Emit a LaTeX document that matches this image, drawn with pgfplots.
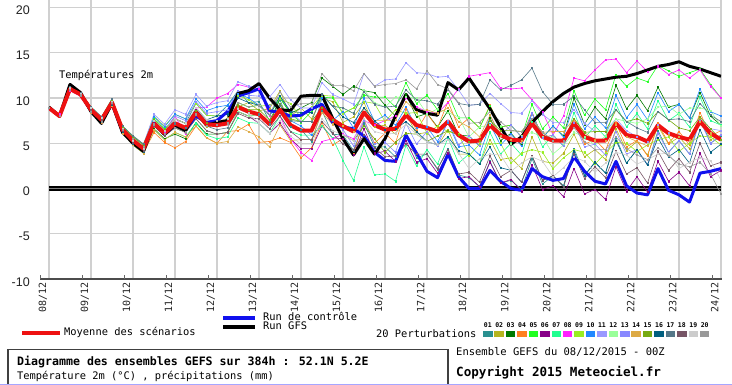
\documentclass[border=0pt]{standalone}
\usepackage{pgfplots}
\usepackage{pgfplotstable}
\pgfplotsset{compat=1.18}
\usepackage{fontspec}
\setmainfont{DejaVu Sans Mono}
\newfontfamily\mono{DejaVu Sans Mono}
\newfontfamily\ysans{Liberation Sans}
\definecolor{c01}{HTML}{2A9090}
\definecolor{c02}{HTML}{B5B520}
\definecolor{c03}{HTML}{007A00}
\definecolor{c04}{HTML}{FF8020}
\definecolor{c05}{HTML}{20FF20}
\definecolor{c06}{HTML}{880088}
\definecolor{c07}{HTML}{20FF90}
\definecolor{c08}{HTML}{FF20FF}
\definecolor{c09}{HTML}{99EE22}
\definecolor{c10}{HTML}{2288FF}
\definecolor{c11}{HTML}{9999FF}
\definecolor{c12}{HTML}{99FF99}
\definecolor{c13}{HTML}{8888FF}
\definecolor{c14}{HTML}{DDAA44}
\definecolor{c15}{HTML}{77AA11}
\definecolor{c16}{HTML}{005F7F}
\definecolor{c17}{HTML}{557788}
\definecolor{c18}{HTML}{775566}
\definecolor{c19}{HTML}{CCCCCC}
\definecolor{c20}{HTML}{999999}
\definecolor{gridc}{HTML}{D0D0D0}
\definecolor{meanc}{HTML}{EE1111}
\definecolor{ctrlc}{HTML}{1010EE}
\definecolor{txtc}{HTML}{222222}

\pgfplotstableread{
h 0 6 12 18 24 30 36 42 48 54 60 66 72 78 84 90 96 102 108 114 120 126 132 138 144 150 156 162 168 174 180 186 192 198 204 210 216 222 228 234 240 246 252 258 264 270 276 282 288 294 300 306 312 318 324 330 336 342 348 354 360 366 372 378 384
M 8.9 8.0 11.0 10.4 8.7 7.6 9.5 6.5 5.3 4.4 7.2 6.1 7.2 6.7 8.4 7.1 7.0 7.2 9.0 8.5 8.2 7.1 8.7 7.0 6.4 6.4 8.9 7.6 6.9 6.3 8.4 7.0 6.5 6.6 8.1 7.0 6.7 6.3 7.4 5.9 5.2 5.3 7.0 5.9 5.4 5.3 7.2 5.7 5.3 5.3 7.2 5.7 5.3 5.3 7.2 5.9 5.7 5.2 7.0 6.1 5.7 5.4 7.4 6.1 5.4
C 8.9 8.0 11.0 10.4 8.6 7.4 9.4 6.3 5.2 4.3 7.2 6.0 7.0 6.5 8.0 7.3 7.5 8.5 10.2 10.6 11.0 8.6 8.4 8.0 8.1 8.8 9.3 7.3 6.8 6.6 5.8 4.0 3.1 3.0 5.9 3.9 1.9 1.2 3.8 1.3 0.0 0.0 2.0 0.8 0.0 -0.2 2.2 1.3 0.9 1.1 3.5 1.9 0.8 0.5 3.0 0.3 -0.5 -0.7 2.2 -0.2 -0.7 -1.5 1.7 1.9 2.2
G 9.0 8.0 11.5 10.6 8.5 7.2 9.4 6.2 5.0 4.1 7.2 6.0 7.0 6.4 8.5 7.0 7.3 7.5 10.5 10.8 11.6 10.0 8.7 8.6 10.2 10.3 10.3 7.8 5.5 3.7 5.5 3.8 5.5 8.0 10.4 8.7 8.3 8.1 11.7 10.9 12.2 10.5 8.8 6.8 4.9 5.7 7.3 8.5 9.6 10.5 11.2 11.6 11.9 12.1 12.3 12.4 12.7 13.1 13.5 13.7 14.0 13.5 13.2 12.8 12.4
p01 8.9 8.0 11.1 10.5 8.9 7.8 9.4 6.4 5.0 4.1 7.3 6.2 7.7 7.2 9.4 8.1 8.0 9.2 10.8 9.5 9.6 7.5 9.8 6.8 6.5 5.2 8.6 6.0 5.9 4.2 7.2 4.6 4.6 3.5 6.0 3.4 3.8 2.1 4.4 1.5 1.2 0.2 3.0 0.6 0.9 -0.1 3.3 0.5 1.4 0.3 4.4 1.5 2.9 1.7 5.6 2.8 4.3 2.6 6.4 4.0 5.3 3.8 7.8 5.0 5.8
p02 8.9 8.0 10.9 10.3 8.5 7.4 9.6 6.6 5.6 4.7 7.1 6.0 6.7 6.2 8.2 6.8 7.0 7.8 9.0 9.5 8.6 8.8 10.8 8.0 8.9 7.7 10.0 9.6 7.3 7.9 9.5 6.8 7.0 6.0 8.3 6.0 6.2 4.7 6.5 3.8 3.8 2.7 5.4 3.2 3.4 2.2 5.7 3.0 2.8 3.9 6.0 3.5 4.3 3.2 6.6 4.2 5.2 3.7 6.9 4.9 5.7 4.4 7.8 5.4 5.9
p03 8.9 8.0 11.2 10.6 9.0 7.9 9.7 6.7 5.3 4.4 6.6 5.5 6.0 5.5 7.3 6.0 6.0 6.2 8.5 8.0 8.2 7.1 10.0 8.3 8.9 9.5 12.2 11.3 10.4 11.3 10.8 10.6 9.2 8.0 10.4 7.9 8.3 6.8 8.6 5.9 5.8 4.7 7.8 5.3 6.1 4.8 8.4 5.6 6.9 5.8 10.0 7.1 9.0 7.7 11.4 8.8 10.3 8.6 11.2 9.0 9.3 7.8 10.6 8.0 7.0
p04 8.9 8.0 11.0 10.4 8.7 7.6 9.3 6.3 4.8 3.9 6.2 5.1 4.5 5.2 6.9 5.6 5.0 6.3 6.4 7.1 5.1 5.2 5.6 5.1 3.4 4.5 7.3 4.8 5.5 3.8 7.6 5.0 6.1 5.0 8.8 6.4 8.3 6.7 9.6 6.8 7.8 6.7 9.2 6.8 7.0 5.7 8.4 5.6 5.9 4.7 7.7 4.9 5.4 4.2 7.2 4.6 5.3 3.6 7.2 5.0 6.3 4.8 8.4 5.8 6.4
p05 8.9 8.0 11.2 10.6 9.0 7.9 9.9 6.9 5.8 4.9 7.7 6.6 7.7 7.2 8.7 7.4 7.0 7.2 9.5 9.0 9.2 8.1 10.0 8.3 7.3 8.5 10.1 10.0 8.3 8.9 10.3 10.1 10.1 9.0 11.7 9.4 10.3 8.7 10.5 7.8 7.8 6.7 9.1 6.8 7.0 5.7 9.3 6.6 7.9 6.7 10.8 8.1 9.9 8.7 12.6 11.3 12.2 11.8 13.6 13.0 12.4 12.8 13.2 11.5 10.0
p06 8.9 8.0 10.9 10.2 8.4 7.3 9.2 6.2 5.1 4.2 7.4 6.3 7.7 7.2 8.7 7.4 7.0 7.2 8.5 8.0 7.2 6.1 7.2 5.5 4.4 4.4 6.9 5.6 5.5 3.7 6.6 3.9 4.1 3.0 5.3 2.9 3.3 1.7 3.9 1.1 1.3 0.2 2.9 0.6 1.0 -0.3 2.6 -0.1 0.3 -0.9 2.2 -0.6 -0.1 -1.2 2.4 -0.3 1.3 -0.4 3.0 0.8 1.8 0.3 3.9 1.3 2.0
p07 8.9 8.0 11.0 10.4 8.7 7.6 9.3 6.3 4.8 3.9 6.5 5.4 6.2 5.7 7.2 5.9 5.5 5.7 7.8 7.3 7.2 6.1 8.0 6.3 5.9 5.9 6.9 5.6 3.1 0.9 4.6 1.5 1.6 0.8 4.8 2.5 4.3 2.7 5.6 2.8 3.8 2.7 6.2 3.8 5.0 3.7 7.4 4.6 5.9 4.7 8.4 5.6 6.9 5.7 9.3 6.8 8.3 6.6 9.7 7.5 8.3 6.8 10.1 7.5 7.0
p08 8.9 8.2 10.8 10.2 8.9 7.9 9.6 6.3 5.0 4.2 7.0 6.3 8.0 6.0 8.9 9.0 10.0 10.5 11.5 11.2 11.0 8.0 8.0 5.5 4.0 3.1 5.2 5.5 6.0 5.5 7.5 7.0 7.5 8.0 10.0 9.0 8.5 8.3 9.5 11.0 12.4 12.6 12.8 11.1 11.0 11.1 9.8 8.5 5.9 8.0 12.2 11.9 13.1 14.2 14.3 12.8 14.1 12.9 13.5 12.6 13.1 12.2 13.1 11.3 10.0
p09 8.9 8.0 11.0 10.4 8.7 7.6 9.8 6.8 5.8 4.9 8.0 6.9 8.2 7.7 9.4 8.1 8.0 8.2 10.3 9.8 9.1 9.2 9.9 9.4 7.8 9.0 10.3 10.2 8.3 8.9 9.6 9.4 7.4 8.7 8.3 8.4 6.1 6.9 6.3 6.0 3.6 4.9 4.9 5.0 2.8 3.9 4.3 4.0 2.2 3.4 4.3 4.0 2.7 3.9 5.1 5.0 4.1 4.8 5.4 5.7 4.1 5.0 5.8 5.7 4.8
p10 8.9 8.0 11.1 10.5 8.9 7.8 9.8 6.8 5.6 4.7 7.9 6.8 8.2 7.7 9.9 8.6 9.0 9.2 10.5 10.0 9.2 8.1 9.2 7.5 6.9 5.9 10.0 7.5 8.5 6.7 10.0 7.4 8.1 7.0 9.0 6.7 6.8 5.2 7.3 4.6 4.8 3.7 7.1 4.8 6.0 4.7 8.3 5.6 6.9 5.7 9.3 6.6 7.9 6.7 10.3 7.8 9.3 7.6 10.6 8.5 9.3 7.8 11.0 8.5 8.0
p11 8.9 8.0 10.9 10.3 8.5 7.4 9.7 6.7 5.8 4.9 8.2 7.1 8.7 8.2 10.4 9.1 9.5 9.7 11.8 11.3 11.2 10.1 11.5 9.8 8.9 8.9 11.7 10.4 9.9 9.3 12.7 11.3 12.0 12.1 13.9 12.8 12.7 12.3 12.4 10.9 9.2 9.3 10.5 9.4 8.4 8.3 9.7 8.2 7.3 7.3 8.7 7.2 6.3 6.3 7.7 6.4 5.7 5.2 7.0 6.1 5.7 5.4 7.9 6.6 6.4
p12 8.9 8.0 11.0 10.4 8.7 7.6 9.7 6.7 5.6 4.7 7.1 6.0 6.7 6.2 7.7 6.4 6.0 6.2 8.5 8.0 8.2 7.1 9.2 7.5 7.4 7.4 10.4 9.1 8.9 8.3 10.9 9.5 9.0 10.1 10.1 10.0 8.2 8.8 8.4 7.9 5.7 6.8 7.0 6.9 4.9 5.8 6.2 5.7 3.8 4.8 6.2 5.7 4.8 5.8 7.7 7.4 7.2 7.7 9.0 9.1 8.2 8.9 8.9 8.6 6.9
p13 8.9 8.0 11.2 10.6 9.0 7.9 9.5 6.5 5.0 4.1 7.5 6.4 8.0 7.5 9.6 8.3 8.5 8.7 10.8 10.3 10.2 9.1 10.2 8.5 7.4 7.4 8.9 7.6 6.5 4.7 7.5 4.9 5.1 4.0 7.2 4.9 6.3 4.7 7.5 4.8 5.8 4.7 8.1 5.8 7.0 5.7 8.3 5.6 5.9 4.7 7.3 4.6 4.9 3.7 6.3 3.8 4.3 2.6 6.1 4.0 5.3 3.8 7.5 5.0 5.9
p14 8.9 8.0 10.9 10.3 8.4 7.3 9.1 6.1 4.8 3.9 6.5 5.4 6.2 5.7 6.9 5.6 5.0 5.2 6.8 6.3 5.7 4.6 7.0 5.3 5.4 5.4 8.4 7.1 6.9 6.3 8.9 7.5 7.5 7.6 9.6 8.5 8.7 8.3 8.9 7.4 6.8 5.7 8.1 5.8 5.4 5.3 7.7 6.2 6.3 6.3 7.7 6.2 5.3 5.3 7.0 5.7 5.2 4.7 6.8 5.9 5.7 5.4 7.4 6.1 5.4
p15 8.9 8.0 11.1 10.5 8.9 7.8 9.8 6.8 5.7 4.8 7.6 6.5 7.7 7.2 8.6 7.3 7.0 7.2 9.2 8.7 8.7 7.6 9.4 7.7 7.4 7.4 8.9 7.6 5.9 5.3 6.9 5.5 4.0 5.1 6.1 6.0 5.2 5.8 6.4 5.9 5.2 5.3 7.5 6.4 6.4 6.3 7.7 6.2 5.3 5.3 7.7 6.2 6.3 6.3 8.7 7.4 7.7 7.2 8.5 7.6 6.7 6.4 7.9 6.6 5.4
p16 8.9 8.0 10.9 10.3 8.5 7.4 9.3 6.3 5.0 4.1 7.1 6.0 7.2 6.7 8.9 7.6 8.0 8.2 10.0 9.5 9.2 8.1 10.2 8.5 8.4 8.4 10.4 9.1 7.9 7.3 8.9 7.5 6.5 6.6 7.4 6.3 5.2 4.8 5.7 4.2 3.8 2.7 4.6 2.3 2.0 0.7 3.6 0.9 1.4 0.2 4.1 1.4 2.9 1.7 5.3 2.8 4.3 2.6 5.6 3.5 4.3 2.8 6.5 4.0 4.9
p17 8.9 8.0 11.2 10.6 9.0 7.9 9.9 6.9 5.8 4.9 7.5 6.4 7.2 6.7 8.2 6.9 6.5 6.7 8.8 8.3 8.2 7.1 9.2 7.5 7.4 7.4 10.4 9.1 8.9 8.3 10.7 9.3 9.0 9.1 10.9 9.8 9.7 9.3 10.9 9.4 9.2 9.3 12.0 10.9 11.4 12.0 13.3 10.7 9.3 9.3 10.2 8.7 7.3 7.3 8.7 7.4 6.7 6.2 8.5 7.6 7.7 7.4 9.4 8.1 7.4
p18 8.9 8.0 11.0 10.4 8.7 7.6 9.4 6.4 5.1 4.2 6.9 5.8 6.7 6.2 7.7 6.4 6.0 6.2 8.3 7.8 7.7 6.6 8.0 6.3 5.4 5.4 7.4 6.1 4.9 4.3 5.9 4.5 3.5 3.6 4.9 3.8 3.8 2.2 4.3 1.6 1.8 0.7 3.6 1.3 2.0 0.7 3.6 0.9 1.4 0.2 3.8 1.1 2.4 1.2 4.1 1.6 2.3 0.6 4.1 2.0 3.3 1.8 5.0 2.5 2.9
p19 8.9 8.0 11.1 10.5 8.9 7.8 9.6 6.6 5.3 4.4 7.5 6.4 7.7 7.2 8.9 7.6 7.5 7.7 8.8 8.3 7.2 6.1 7.5 5.8 4.9 4.9 7.7 6.4 5.9 5.3 7.7 6.3 6.0 6.1 7.1 6.0 5.2 4.8 5.4 3.9 2.2 3.3 3.8 3.7 1.9 2.8 3.5 3.0 1.3 2.3 3.5 3.0 1.8 2.8 4.0 3.7 2.7 3.2 3.8 3.9 2.2 2.9 3.4 3.1 0.9
p20 8.9 8.0 10.9 10.3 8.5 7.4 9.5 6.5 5.5 4.6 7.1 6.0 6.7 6.2 8.2 6.9 7.0 7.2 9.5 9.0 9.2 8.1 10.7 9.0 9.4 9.4 12.7 11.4 11.4 10.8 12.7 11.3 11.5 11.6 12.0 11.0 13.0 11.5 11.0 9.5 7.2 7.3 8.5 7.4 6.4 6.3 7.7 6.2 5.3 5.3 6.7 5.2 4.3 4.3 5.7 4.4 3.7 3.2 4.5 3.6 2.7 2.4 2.9 1.6 -0.6
}\raw
\pgfplotstabletranspose[colnames from=h]{\data}{\raw}

\pgfplotsset{pert/.style={color=#1, line width=0.6pt, mark=square*, mark size=0.6pt, mark options={solid}}}

\begin{document}
\begin{tikzpicture}[x=1pt,y=1pt]
\useasboundingbox (0,0) rectangle (732,385);
\begin{axis}[at={(49pt,106pt)}, anchor=south west, scale only axis,
  width=672pt, height=279pt, xmin=0, xmax=384, ymin=-10, ymax=20.83,
  xtick={0,24,...,384},
  xticklabels={08/12,09/12,10/12,11/12,12/12,13/12,14/12,15/12,16/12,17/12,18/12,19/12,20/12,21/12,22/12,23/12,24/12},
  ytick={-10,-5,0,5,10,15,20},
  grid=major, major grid style={line width=1.3pt, color=gridc},
  axis line style={draw=none}, major tick length=0pt,
  /pgf/number format/assume math mode=true,
  yticklabel style={font=\ysans\fontsize{12.5}{13}\selectfont, anchor=east, inner sep=0pt, xshift=-19pt, yshift=-3pt, text=txtc},
  xticklabel style={font=\mono\fontsize{10}{11}\selectfont, xshift=-6pt, yshift=-3pt, rotate=90, anchor=east, inner sep=0pt, text=txtc},
  every axis plot/.append style={line join=round},
  clip=true]
\addplot[black, line width=4.2pt] coordinates {(0,0) (384,0)};
\addplot[color=gray, line width=1pt] coordinates {(0,0) (384,0)};
\addplot[pert=c01] table[x=colnames,y=p01]{\data};
\addplot[pert=c02] table[x=colnames,y=p02]{\data};
\addplot[pert=c03] table[x=colnames,y=p03]{\data};
\addplot[pert=c04] table[x=colnames,y=p04]{\data};
\addplot[pert=c05] table[x=colnames,y=p05]{\data};
\addplot[pert=c06] table[x=colnames,y=p06]{\data};
\addplot[pert=c07] table[x=colnames,y=p07]{\data};
\addplot[pert=c08] table[x=colnames,y=p08]{\data};
\addplot[pert=c09] table[x=colnames,y=p09]{\data};
\addplot[pert=c10] table[x=colnames,y=p10]{\data};
\addplot[pert=c11] table[x=colnames,y=p11]{\data};
\addplot[pert=c12] table[x=colnames,y=p12]{\data};
\addplot[pert=c13] table[x=colnames,y=p13]{\data};
\addplot[pert=c14] table[x=colnames,y=p14]{\data};
\addplot[pert=c15] table[x=colnames,y=p15]{\data};
\addplot[pert=c16] table[x=colnames,y=p16]{\data};
\addplot[pert=c17] table[x=colnames,y=p17]{\data};
\addplot[pert=c18] table[x=colnames,y=p18]{\data};
\addplot[pert=c19] table[x=colnames,y=p19]{\data};
\addplot[pert=c20] table[x=colnames,y=p20]{\data};
\addplot[color=ctrlc, line width=3pt] table[x=colnames,y=C]{\data};
\addplot[black, line width=3pt] table[x=colnames,y=G]{\data};
\addplot[color=meanc, line width=4pt] table[x=colnames,y=M]{\data};
\node[anchor=west, inner sep=0pt, font=\mono\fontsize{10.4}{12}\selectfont] at (axis cs:5.7,12.5) {Températures 2m};
\end{axis}
% bottom axis line and ticks
\draw[line width=1.5pt, color=black!70] (40,106) -- (722,106);
\foreach \k in {0,...,16} { \draw[line width=1pt, color=black!60] ({40+42*\k},106) -- ++(0,4); }
% legend
\draw[meanc, line width=4pt] (22,52.3) -- (60,52.3);
\node[anchor=west, inner sep=0pt, font=\mono\fontsize{10.4}{12}\selectfont] at (64,52.3) {Moyenne des scénarios};
\draw[ctrlc, line width=4pt] (223,67) -- (255,67);
\node[anchor=west, inner sep=0pt, font=\mono\fontsize{10.4}{12}\selectfont] at (263,68.3) {Run de contrôle};
\draw[black, line width=4pt] (223,57.5) -- (255,57.5);
\node[anchor=west, inner sep=0pt, font=\mono\fontsize{10.4}{12}\selectfont] at (263,59) {Run GFS};
\node[anchor=west, inner sep=0pt, font=\mono\fontsize{10.4}{12}\selectfont] at (376,51.7) {20 Perturbations};
\foreach \k/\n in {0/01,1/02,2/03,3/04,4/05,5/06,6/07,7/08,8/09,9/10,10/11,11/12,12/13,13/14,14/15,15/16,16/17,17/18,18/19,19/20} {
  \fill[c\n] ({483+\k*11.42},48) rectangle ++(9.5,6);
  \node[inner sep=0pt, font=\mono\bfseries\fontsize{6.5}{7}\selectfont] at ({487.75+\k*11.42},60.3) {\n};
}
% footer box
\draw[line width=1.3pt, color=black!75] (8,35.5) rectangle (448,-3);
\node[anchor=west, inner sep=0pt, font=\mono\bfseries\fontsize{11.6}{13}\selectfont] at (17,23.3) {Diagramme des ensembles GEFS sur 384h : 52.1N 5.2E};
\node[anchor=west, inner sep=0pt, font=\mono\fontsize{10.4}{12}\selectfont] at (17,9) {Température 2m (°C) , précipitations (mm)};
\node[anchor=west, inner sep=0pt, font=\mono\fontsize{10.5}{12}\selectfont] at (456,33) {Ensemble GEFS du 08/12/2015 - 00Z};
\node[anchor=west, inner sep=0pt, font=\mono\bfseries\fontsize{12.6}{14}\selectfont] at (456,12) {Copyright 2015 Meteociel.fr};
\draw[color=blue!35, line width=1pt] (0,0.5) -- (732,0.5);
\end{tikzpicture}
\end{document}
